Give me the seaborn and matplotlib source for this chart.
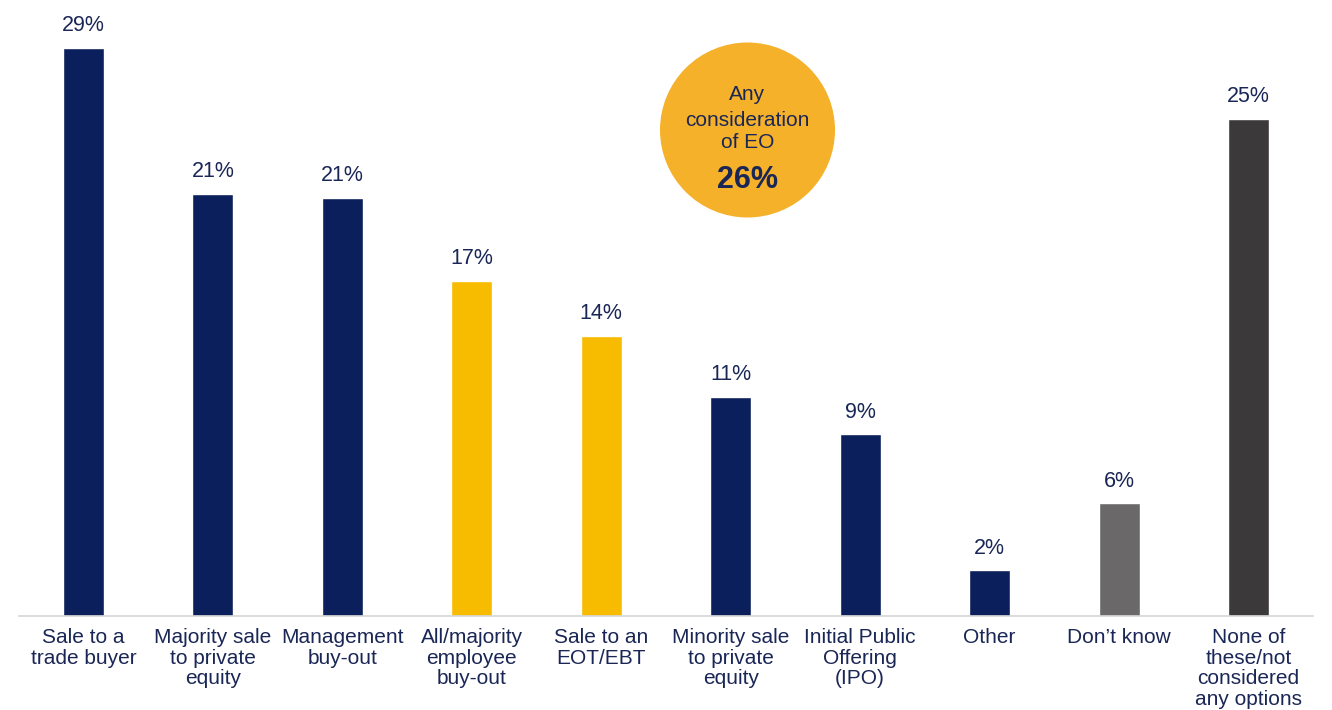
import matplotlib
matplotlib.use("Agg")
import matplotlib.pyplot as plt
from matplotlib.patches import Circle
import seaborn as sns

# Planned exit routes (share of respondents, %)
categories = [
    "Sale to a\ntrade buyer",
    "Majority sale\nto private\nequity",
    "Management\nbuy-out",
    "All/majority\nemployee\nbuy-out",
    "Sale to an\nEOT/EBT",
    "Minority sale\nto private\nequity",
    "Initial Public\nOffering\n(IPO)",
    "Other",
    "Don\u2019t know",
    "None of\nthese/not\nconsidered\nany options",
]
values = [28.8, 21.4, 21.2, 17.0, 14.2, 11.1, 9.2, 2.3, 5.7, 25.2]
bar_colors = ["#0b1f5c", "#0b1f5c", "#0b1f5c", "#f7bb00", "#f7bb00",
              "#0b1f5c", "#0b1f5c", "#0b1f5c", "#6b686a", "#3c393a"]

badge_lines = ["Any", "consideration", "of EO"]
badge_value = "26%"

TEXT_NAVY = "#1a2656"

sns.set_theme(style="white")
plt.rcParams["font.family"] = ["Liberation Sans", "DejaVu Sans"]

fig = plt.figure(figsize=(13.32, 7.10), dpi=100)
ax = fig.add_axes([18.8 / 1332, 94.5 / 710, (1313.2 - 18.8) / 1332, 615.5 / 710])

sns.barplot(x=categories, y=values, hue=categories, palette=bar_colors,
            width=0.317, legend=False, saturation=1, ax=ax)

ax.set_xlim(-0.5, len(categories) - 0.5)
ax.set_ylim(0, 31.24)

# value labels above each bar
for i, v in enumerate(values):
    ax.annotate(f"{v:.0f}%", xy=(i, v), xytext=(0, 12), textcoords="offset points",
                ha="center", va="baseline", fontsize=15.5, color=TEXT_NAVY)

# axes styling: only a light baseline with faint separators
for side in ("left", "right", "top"):
    ax.spines[side].set_visible(False)
ax.spines["bottom"].set_color("#d6d6d6")
ax.spines["bottom"].set_linewidth(1.2)
ax.set_yticks([])
ax.set_xlabel("")
ax.set_ylabel("")
ax.tick_params(axis="x", which="major", length=0, pad=9, labelsize=15,
               labelcolor=TEXT_NAVY)
for lbl in ax.get_xticklabels():
    lbl.set_linespacing(1.11)
ax.set_xticks([i + 0.5 for i in range(len(categories) - 1)], minor=True)
ax.tick_params(axis="x", which="minor", length=4, width=1, color="#e6e6e6",
               direction="out")
ax.grid(False)

# highlight badge
tr = fig.dpi_scale_trans
fig.patches.append(Circle((7.475, 5.80), 0.875, transform=tr,
                          facecolor="#f5b12a", edgecolor="none", zorder=5))
for txt, y in zip(badge_lines, [6.15, 5.90, 5.67]):
    fig.text(7.475, y, txt, transform=tr, ha="center", va="center",
             fontsize=15, color=TEXT_NAVY, zorder=6)
fig.text(7.475, 5.30, badge_value, transform=tr, ha="center", va="center",
         fontsize=22, fontweight="bold", color=TEXT_NAVY, zorder=6)

fig.savefig("out.png", dpi=100)
